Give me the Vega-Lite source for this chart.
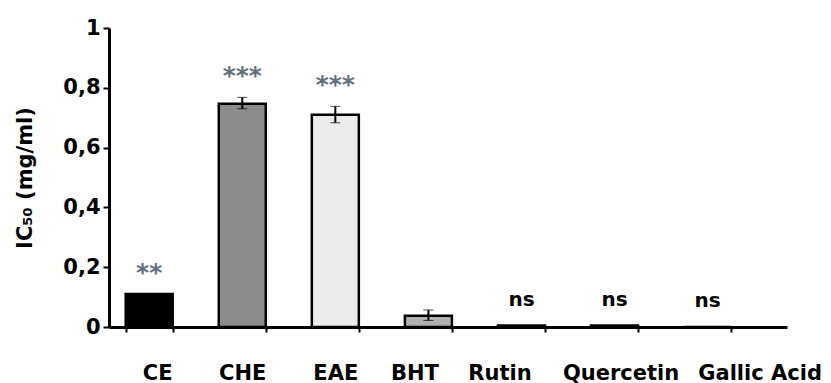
{
  "$schema": "https://vega.github.io/schema/vega-lite/v6.json",
  "autosize": {"type": "none"},
  "width": 678,
  "height": 299,
  "padding": {"left": 109, "top": 28, "right": 44, "bottom": 56},
  "background": "white",
  "config": {
    "view": {"stroke": null},
    "font": "DejaVu Sans",
    "axis": {"grid": false, "domainColor": "black", "tickColor": "black", "labelColor": "black", "titleColor": "black", "labelFont": "DejaVu Sans", "titleFont": "DejaVu Sans", "labelFontWeight": "bold", "titleFontWeight": "bold"}
  },
  "data": {
    "values": [
      {"compound": "CE", "value": 0.11, "lo": 0.11, "hi": 0.11, "haserr": false, "label": "**", "star": true},
      {"compound": "CHE", "value": 0.747, "lo": 0.73, "hi": 0.768, "haserr": true, "label": "***", "star": true},
      {"compound": "EAE", "value": 0.71, "lo": 0.683, "hi": 0.738, "haserr": true, "label": "***", "star": true},
      {"compound": "BHT", "value": 0.038, "lo": 0.022, "hi": 0.057, "haserr": true, "label": "", "star": false},
      {"compound": "Rutin", "value": 0.005, "lo": 0.005, "hi": 0.005, "haserr": false, "label": "ns", "star": false},
      {"compound": "Quercetin", "value": 0.005, "lo": 0.005, "hi": 0.005, "haserr": false, "label": "ns", "star": false},
      {"compound": "Gallic Acid", "value": 0.0, "lo": 0.0, "hi": 0.0, "haserr": false, "label": "ns", "star": false}
    ]
  },
  "encoding": {
    "x": {
      "field": "compound", "type": "nominal", "sort": null,
      "scale": {"paddingInner": 0.495, "paddingOuter": 0.39, "align": 0.23},
      "axis": {
        "title": null, "labelAngle": 0, "labelFontSize": 21, "labelPadding": 30,
        "domainWidth": 3, "tickWidth": 2, "tickSize": 5, "tickBand": "extent", "labelBaseline": "top",
        "labelOffset": {"condition": [{"test": "datum.value == 'Gallic Acid'", "value": 52}, {"test": "datum.value == 'Quercetin'", "value": 6}, {"test": "datum.value == 'CE'", "value": 8}, {"test": "datum.value == 'BHT'", "value": -14}, {"test": "datum.value == 'Rutin'", "value": -22}], "value": 0}
      }
    }
  },
  "layer": [
    {
      "mark": {"type": "bar", "stroke": "black", "strokeWidth": 2.5},
      "encoding": {
        "y": {
          "field": "value", "type": "quantitative", "title": "IC₅₀ (mg/ml)",
          "scale": {"domain": [0, 1], "nice": false},
          "axis": {
            "title": "IC₅₀ (mg/ml)", "titleFontSize": 21, "titlePadding": 27,
            "values": [0, 0.2, 0.4, 0.6, 0.8, 1],
            "labelExpr": "datum.value == 0 || datum.value == 1 ? format(datum.value, 'd') : replace(format(datum.value, '.1f'), '.', ',')",
            "labelFontSize": 21, "labelPadding": 3, "domainWidth": 3, "tickWidth": 2, "tickSize": 6
          }
        },
        "fill": {
          "field": "compound", "type": "nominal", "sort": null, "legend": null,
          "scale": {"domain": ["CE", "CHE", "EAE", "BHT", "Rutin", "Quercetin", "Gallic Acid"], "range": ["#000000", "#8c8c8c", "#ebebeb", "#b0b0b0", "#000000", "#000000", "#000000"]}
        }
      }
    },
    {
      "transform": [{"filter": "datum.haserr"}],
      "mark": {"type": "errorbar", "ticks": {"size": 10, "color": "black", "strokeWidth": 2}, "rule": {"color": "black", "strokeWidth": 2}},
      "encoding": {
        "y": {"field": "lo", "type": "quantitative", "title": "IC₅₀ (mg/ml)"},
        "y2": {"field": "hi"}
      }
    },
    {
      "transform": [{"filter": "datum.star"}],
      "mark": {"type": "text", "fontSize": 25, "fontWeight": "bold", "color": "#607080", "baseline": "bottom", "dy": -8},
      "encoding": {
        "y": {"field": "hi", "type": "quantitative", "title": "IC₅₀ (mg/ml)"},
        "text": {"field": "label"}
      }
    },
    {
      "transform": [{"filter": "!datum.star"}],
      "mark": {"type": "text", "fontSize": 20, "fontWeight": "bold", "color": "black", "baseline": "bottom", "dy": -16},
      "encoding": {
        "y": {"field": "hi", "type": "quantitative", "title": "IC₅₀ (mg/ml)"},
        "text": {"field": "label"}
      }
    }
  ]
}
